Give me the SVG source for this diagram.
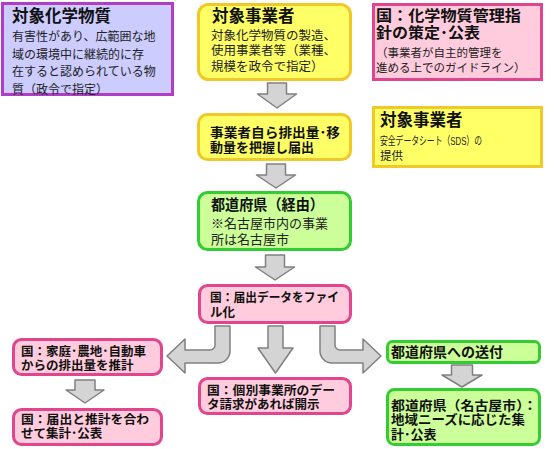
<svg xmlns="http://www.w3.org/2000/svg" width="554" height="449" viewBox="0 0 554 449">
<style>
text{font-family:"Liberation Sans","Noto Sans CJK JP","Noto Sans CJK SC",sans-serif;fill:#111}
.t{font-weight:bold;font-size:16.5px}
.b{font-size:12px;fill:#222}
.bb{font-weight:bold;font-size:13px}
.purple{fill:#ccccff;stroke:#b03cc8;stroke-width:3}
.yellow{fill:#ffff66;stroke:#f0c828;stroke-width:3}
.green{fill:#ccff99;stroke:#33cc33;stroke-width:3}
.pink{fill:#ffccdd;stroke:#e0458e;stroke-width:3}
.arr{fill:#d4d4d4;stroke:#808080;stroke-width:1.5;stroke-linejoin:round}
</style>
<rect width="554" height="449" fill="#ffffff"/>
<g id="connectors">
<path class="arr" d="M267.5,83 H286.5 V94 H296.5 L277,108 L257.5,94 H267.5 Z"/>
<path class="arr" d="M266.5,164 H285.5 V175 H295.5 L276,188 L256.5,175 H266.5 Z"/>
<path class="arr" d="M265.5,255 H284.5 V267 H294.5 L275,280 L255.5,267 H265.5 Z"/>
<path class="arr" d="M268,326 H283 V348 H293 L275.5,373 L258,348 H268 Z"/>
<path class="arr" d="M215,326 H230 V351 A12,12 0 0 1 218,363 H185 V373 L167,356 L185,339 V350 H210 A5,5 0 0 0 215,345 Z"/>
<path class="arr" d="M335,326 H320 V351 A12,12 0 0 0 332,363 H363 V373 L381,356 L363,339 V350 H340 A5,5 0 0 1 335,345 Z"/>
<path class="arr" d="M75,380 H95 V390 H104 L85,403 L66,390 H75 Z"/>
<path class="arr" d="M451.5,365 H472.5 V375 H482 L462,387 L442,375 H451.5 Z"/>
</g>
<g id="n1">
<rect class="purple" x="2.5" y="3.5" width="170" height="91"/>
<text class="t" x="12" y="22">対象化学物質</text>
<text class="b" x="12" y="41">有害性があり、広範囲な地<tspan x="12" dy="17.5">域の環境中に継続的に存</tspan><tspan x="12" dy="17.5">在すると認められている物</tspan><tspan x="12" dy="17.5">質（政令で指定）</tspan></text>
</g>
<g id="n2">
<rect class="yellow" x="198.5" y="4.5" width="152" height="75" rx="10"/>
<text class="t" x="212" y="21.5">対象事業者</text>
<text class="b" x="211" y="39.5" style="font-size:12.5px">対象化学物質の製造、<tspan x="211" dy="15.5">使用事業者等（業種、</tspan><tspan x="211" dy="15.5">規模を政令で指定）</tspan></text>
</g>
<g id="n3">
<rect class="yellow" x="198.5" y="114.5" width="152" height="45" rx="9"/>
<text class="bb" x="210" y="136.5"><tspan textLength="130" lengthAdjust="spacingAndGlyphs">事業者自ら排出量･移</tspan><tspan x="210" dy="15">動量を把握し届出</tspan></text>
</g>
<g id="n4">
<rect class="green" x="198.5" y="192.5" width="152" height="57" rx="9"/>
<text class="t" x="211" y="210" style="font-size:15px" textLength="113" lengthAdjust="spacingAndGlyphs">都道府県（経由）</text>
<text class="b" x="211" y="228" style="font-size:13px">※名古屋市内の事業<tspan x="211" dy="16">所は名古屋市</tspan></text>
</g>
<g id="n5">
<rect class="pink" x="199.5" y="285.5" width="151" height="37" rx="8"/>
<text class="bb" x="210" y="302" style="font-size:12.5px"><tspan textLength="129" lengthAdjust="spacingAndGlyphs">国：届出データをファイ</tspan><tspan x="210" dy="15">ル化</tspan></text>
</g>
<g id="n6">
<rect class="pink" x="13.5" y="339.5" width="148" height="35" rx="8"/>
<text class="bb" x="21" y="356" style="font-size:12.5px">国：家庭･農地･自動車<tspan x="21" dy="14">からの排出量を推計</tspan></text>
</g>
<g id="n7">
<rect class="pink" x="13.5" y="409.5" width="148" height="35" rx="8"/>
<text class="bb" x="21" y="423.5" style="font-size:12.5px"><tspan textLength="128" lengthAdjust="spacingAndGlyphs">国：届出と推計を合わ</tspan><tspan x="21" dy="14">せて集計･公表</tspan></text>
</g>
<g id="n8">
<rect class="pink" x="199.5" y="378.5" width="151" height="35" rx="8"/>
<text class="bb" x="207" y="394.5" style="font-size:12.5px"><tspan textLength="128" lengthAdjust="spacingAndGlyphs">国：個別事業所のデー</tspan><tspan x="207" dy="14.5">タ請求があれば開示</tspan></text>
</g>
<g id="n9">
<rect class="green" x="387.5" y="341.5" width="152" height="21" rx="5"/>
<text class="bb" x="391" y="357" style="font-size:14px">都道府県への送付</text>
</g>
<g id="n10">
<rect class="green" x="387.5" y="389.5" width="152" height="55" rx="7"/>
<text class="bb" x="391" y="409.5"><tspan textLength="146" lengthAdjust="spacingAndGlyphs">都道府県（名古屋市）：</tspan><tspan x="391" dy="14.5" textLength="134" lengthAdjust="spacingAndGlyphs">地域ニーズに応じた集</tspan><tspan x="391" dy="14.5">計･公表</tspan></text>
</g>
<g id="n11">
<rect class="pink" x="373.5" y="4.5" width="168" height="75"/>
<text class="t" x="376" y="20.5" style="font-size:15px"><tspan textLength="145" lengthAdjust="spacingAndGlyphs">国：化学物質管理指</tspan><tspan x="376" dy="17" textLength="104" lengthAdjust="spacingAndGlyphs">針の策定･公表</tspan></text>
<text class="b" x="376" y="57" style="font-size:11.5px">（事業者が自主的管理を<tspan x="376" dy="15">進める上でのガイドライン）</tspan></text>
</g>
<g id="n12">
<rect class="yellow" x="373.5" y="107.5" width="168" height="59"/>
<text class="t" x="380" y="126">対象事業者</text>
<text class="b" x="380" y="144.5" style="font-size:11.5px"><tspan textLength="102" lengthAdjust="spacingAndGlyphs">安全データシート（SDS）の</tspan><tspan x="380" dy="15">提供</tspan></text>
</g>
</svg>
